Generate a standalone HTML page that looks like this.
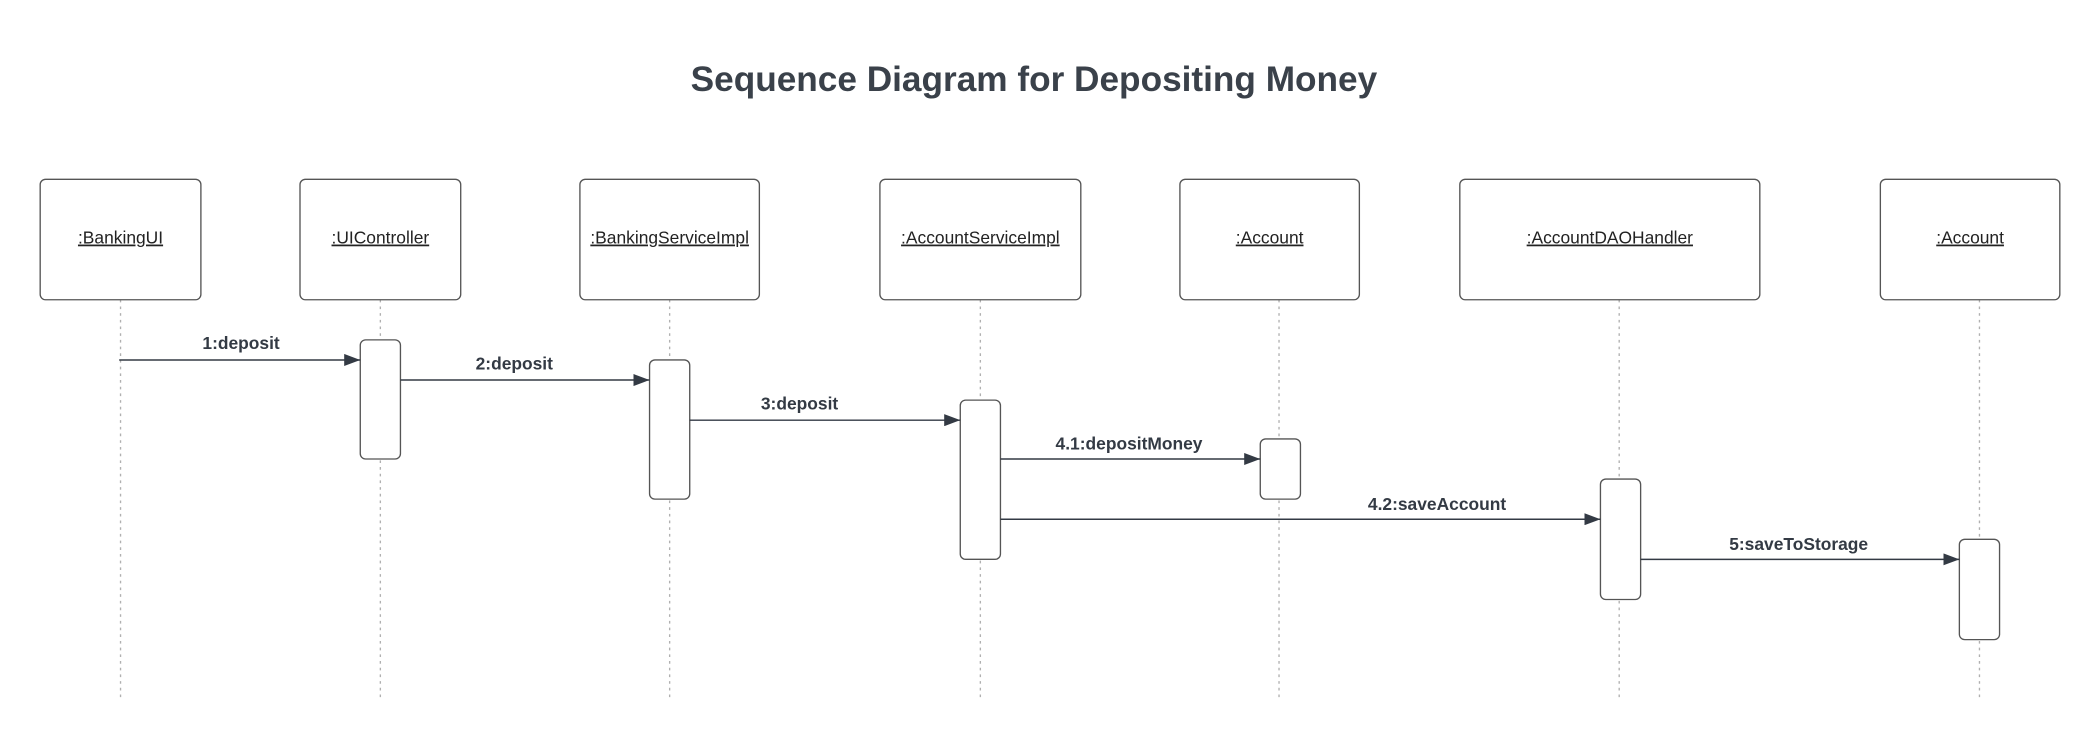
<!DOCTYPE html>
<html><head><meta charset="utf-8"><style>
html,body{margin:0;padding:0;background:#fff;width:2100px;height:740px;overflow:hidden}
svg{display:block}
text{font-family:"Liberation Sans",Arial,sans-serif}
</style></head><body>
<svg width="2100" height="740" viewBox="0 0 1568 553" preserveAspectRatio="none" xmlns="http://www.w3.org/2000/svg">
<defs><marker id="a" markerWidth="12" markerHeight="9" refX="12" refY="4.5" orient="auto" markerUnits="userSpaceOnUse"><path d="M0,0 L12,4.5 L0,9 Z" fill="#333a44"/></marker></defs>
<text x="772" y="68" text-anchor="middle" font-size="26.3" font-weight="bold" fill="#3a414a">Sequence Diagram for Depositing Money</text>
<g stroke="#b0b0b0" stroke-width="1" stroke-dasharray="2,3">
<line x1="90" y1="224" x2="90" y2="523"/><line x1="284" y1="224" x2="284" y2="523"/>
<line x1="500" y1="224" x2="500" y2="523"/><line x1="732" y1="224" x2="732" y2="523"/>
<line x1="955" y1="224" x2="955" y2="523"/><line x1="1209" y1="224" x2="1209" y2="523"/>
<line x1="1478" y1="224" x2="1478" y2="523"/></g>
<g fill="#fff" stroke="#555" stroke-width="1">
<rect x="30" y="134" width="120" height="90" rx="4"/><rect x="224" y="134" width="120" height="90" rx="4"/>
<rect x="433" y="134" width="134" height="90" rx="4"/><rect x="657" y="134" width="150" height="90" rx="4"/>
<rect x="881" y="134" width="134" height="90" rx="4"/><rect x="1090" y="134" width="224" height="90" rx="4"/>
<rect x="1404" y="134" width="134" height="90" rx="4"/>
<rect x="269" y="254" width="30" height="89" rx="4"/><rect x="485" y="269" width="30" height="104" rx="4"/>
<rect x="717" y="299" width="30" height="119" rx="4"/><rect x="941" y="328" width="30" height="45" rx="4"/>
<rect x="1195" y="358" width="30" height="90" rx="4"/><rect x="1463" y="403" width="30" height="75" rx="4"/>
</g>
<g font-size="13" fill="#222" text-anchor="middle" text-decoration="underline">
<text x="90" y="182">:BankingUI</text><text x="284" y="182">:UIController</text>
<text x="500" y="182">:BankingServiceImpl</text><text x="732" y="182">:AccountServiceImpl</text>
<text x="948" y="182">:Account</text><text x="1202" y="182">:AccountDAOHandler</text>
<text x="1471" y="182">:Account</text></g>
<g stroke="#333a44" stroke-width="1.1" marker-end="url(#a)">
<line x1="89" y1="269" x2="269" y2="269"/><line x1="299" y1="284" x2="485" y2="284"/>
<line x1="515" y1="314" x2="717" y2="314"/><line x1="747" y1="343" x2="941" y2="343"/>
<line x1="747" y1="388" x2="1195" y2="388"/><line x1="1225" y1="418" x2="1463" y2="418"/></g>
<g font-size="13" font-weight="bold" fill="#333a44" text-anchor="middle">
<text x="180" y="261">1:deposit</text><text x="384" y="276">2:deposit</text>
<text x="597" y="306">3:deposit</text><text x="843" y="336">4.1:depositMoney</text>
<text x="1073" y="381">4.2:saveAccount</text><text x="1343" y="411">5:saveToStorage</text></g>
</svg>
</body></html>
